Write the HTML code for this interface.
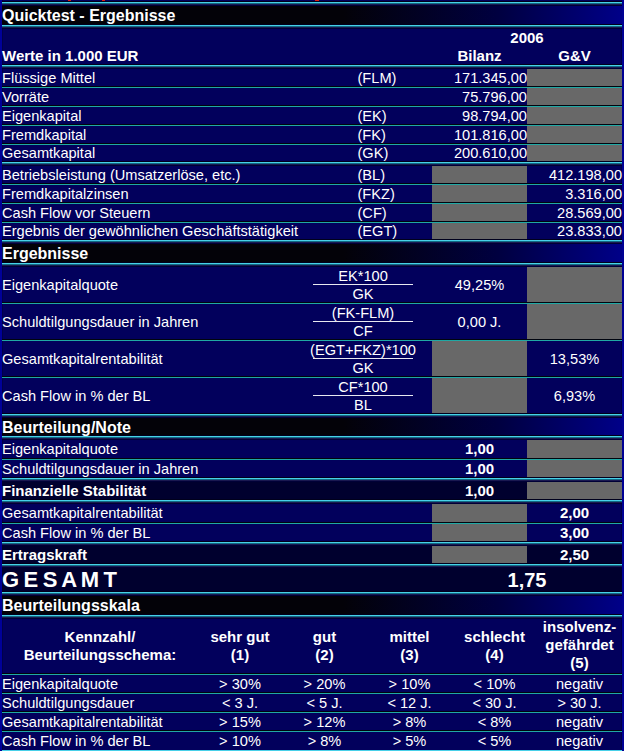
<!DOCTYPE html>
<html><head><meta charset="utf-8"><style>
html,body{margin:0;padding:0;}
body{width:624px;height:751px;overflow:hidden;position:relative;background:linear-gradient(to right,#02005c 0%,#02005c 60%,#02005c 100%);}
div{position:absolute;}
.t{font-family:"Liberation Sans",sans-serif;color:#fff;line-height:20px;white-space:pre;}
</style></head><body>
<div style="left:2px;top:0px;width:1px;height:751px;background:#00004a;"></div>
<div style="left:621px;top:0px;width:1px;height:751px;background:#00004a;"></div>
<div style="left:2px;top:5px;width:620px;height:20px;background:linear-gradient(to right,#030208 0%,#030208 55%,#000040 80%,#000088 100%);"></div>
<div style="left:2px;top:244px;width:620px;height:19px;background:linear-gradient(to right,#030208 0%,#030208 55%,#000040 80%,#000088 100%);"></div>
<div style="left:2px;top:417px;width:620px;height:19px;background:linear-gradient(to right,#030208 0%,#030208 55%,#000040 80%,#000088 100%);"></div>
<div style="left:2px;top:596px;width:620px;height:19px;background:linear-gradient(to right,#030208 0%,#030208 55%,#000040 80%,#000088 100%);"></div>
<div style="left:2px;top:482px;width:620px;height:18px;background:#00002e;"></div>
<div style="left:2px;top:546px;width:620px;height:18px;background:#00002e;"></div>
<div style="left:2px;top:566px;width:620px;height:26px;background:#00002e;"></div>
<div style="left:527px;top:66px;width:95px;height:96px;background:#686868;"></div>
<div style="left:432px;top:164px;width:95px;height:76px;background:#686868;"></div>
<div style="left:527px;top:265px;width:95px;height:75px;background:#686868;"></div>
<div style="left:432px;top:341px;width:95px;height:73px;background:#686868;"></div>
<div style="left:527px;top:437px;width:95px;height:41px;background:#686868;"></div>
<div style="left:527px;top:480px;width:95px;height:20px;background:#686868;"></div>
<div style="left:432px;top:502px;width:95px;height:40px;background:#686868;"></div>
<div style="left:432px;top:544px;width:95px;height:20px;background:#686868;"></div>
<div style="left:2px;top:1px;width:620px;height:1px;background:#00001c;"></div>
<div style="left:2px;top:2px;width:620px;height:1px;background:#48d0e8;"></div>
<div style="left:2px;top:3px;width:620px;height:1px;background:#106a84;"></div>
<div style="left:2px;top:4px;width:620px;height:1px;background:#1a1850;"></div>
<div style="left:2px;top:5px;width:620px;height:1px;background:#000036;"></div>
<div style="left:2px;top:24px;width:620px;height:1px;background:#00001c;"></div>
<div style="left:2px;top:25px;width:620px;height:1px;background:#48d0e8;"></div>
<div style="left:2px;top:26px;width:620px;height:1px;background:#106a84;"></div>
<div style="left:2px;top:27px;width:620px;height:1px;background:#1a1850;"></div>
<div style="left:2px;top:28px;width:620px;height:1px;background:#000036;"></div>
<div style="left:2px;top:64px;width:620px;height:1px;background:#00001c;"></div>
<div style="left:2px;top:65px;width:620px;height:1px;background:#48d0e8;"></div>
<div style="left:2px;top:66px;width:620px;height:1px;background:#106a84;"></div>
<div style="left:2px;top:67px;width:620px;height:1px;background:#1a1850;"></div>
<div style="left:2px;top:68px;width:620px;height:1px;background:#000036;"></div>
<div style="left:2px;top:161px;width:620px;height:1px;background:#00001c;"></div>
<div style="left:2px;top:162px;width:620px;height:1px;background:#48d0e8;"></div>
<div style="left:2px;top:163px;width:620px;height:1px;background:#106a84;"></div>
<div style="left:2px;top:164px;width:620px;height:1px;background:#1a1850;"></div>
<div style="left:2px;top:165px;width:620px;height:1px;background:#000036;"></div>
<div style="left:2px;top:239px;width:620px;height:1px;background:#00001c;"></div>
<div style="left:2px;top:240px;width:620px;height:1px;background:#48d0e8;"></div>
<div style="left:2px;top:241px;width:620px;height:1px;background:#106a84;"></div>
<div style="left:2px;top:242px;width:620px;height:1px;background:#1a1850;"></div>
<div style="left:2px;top:243px;width:620px;height:1px;background:#000036;"></div>
<div style="left:2px;top:262px;width:620px;height:1px;background:#00001c;"></div>
<div style="left:2px;top:263px;width:620px;height:1px;background:#48d0e8;"></div>
<div style="left:2px;top:264px;width:620px;height:1px;background:#106a84;"></div>
<div style="left:2px;top:265px;width:620px;height:1px;background:#1a1850;"></div>
<div style="left:2px;top:266px;width:620px;height:1px;background:#000036;"></div>
<div style="left:2px;top:413px;width:620px;height:1px;background:#00001c;"></div>
<div style="left:2px;top:414px;width:620px;height:1px;background:#48d0e8;"></div>
<div style="left:2px;top:415px;width:620px;height:1px;background:#106a84;"></div>
<div style="left:2px;top:416px;width:620px;height:1px;background:#1a1850;"></div>
<div style="left:2px;top:417px;width:620px;height:1px;background:#000036;"></div>
<div style="left:2px;top:435px;width:620px;height:1px;background:#00001c;"></div>
<div style="left:2px;top:436px;width:620px;height:1px;background:#48d0e8;"></div>
<div style="left:2px;top:437px;width:620px;height:1px;background:#106a84;"></div>
<div style="left:2px;top:438px;width:620px;height:1px;background:#1a1850;"></div>
<div style="left:2px;top:439px;width:620px;height:1px;background:#000036;"></div>
<div style="left:2px;top:477px;width:620px;height:1px;background:#00001c;"></div>
<div style="left:2px;top:478px;width:620px;height:1px;background:#48d0e8;"></div>
<div style="left:2px;top:479px;width:620px;height:1px;background:#106a84;"></div>
<div style="left:2px;top:480px;width:620px;height:1px;background:#1a1850;"></div>
<div style="left:2px;top:481px;width:620px;height:1px;background:#000036;"></div>
<div style="left:2px;top:499px;width:620px;height:1px;background:#00001c;"></div>
<div style="left:2px;top:500px;width:620px;height:1px;background:#48d0e8;"></div>
<div style="left:2px;top:501px;width:620px;height:1px;background:#106a84;"></div>
<div style="left:2px;top:502px;width:620px;height:1px;background:#1a1850;"></div>
<div style="left:2px;top:503px;width:620px;height:1px;background:#000036;"></div>
<div style="left:2px;top:541px;width:620px;height:1px;background:#00001c;"></div>
<div style="left:2px;top:542px;width:620px;height:1px;background:#48d0e8;"></div>
<div style="left:2px;top:543px;width:620px;height:1px;background:#106a84;"></div>
<div style="left:2px;top:544px;width:620px;height:1px;background:#1a1850;"></div>
<div style="left:2px;top:545px;width:620px;height:1px;background:#000036;"></div>
<div style="left:2px;top:563px;width:620px;height:1px;background:#00001c;"></div>
<div style="left:2px;top:564px;width:620px;height:1px;background:#48d0e8;"></div>
<div style="left:2px;top:565px;width:620px;height:1px;background:#106a84;"></div>
<div style="left:2px;top:566px;width:620px;height:1px;background:#1a1850;"></div>
<div style="left:2px;top:567px;width:620px;height:1px;background:#000036;"></div>
<div style="left:2px;top:591px;width:620px;height:1px;background:#00001c;"></div>
<div style="left:2px;top:592px;width:620px;height:1px;background:#48d0e8;"></div>
<div style="left:2px;top:593px;width:620px;height:1px;background:#106a84;"></div>
<div style="left:2px;top:594px;width:620px;height:1px;background:#1a1850;"></div>
<div style="left:2px;top:595px;width:620px;height:1px;background:#000036;"></div>
<div style="left:2px;top:614px;width:620px;height:1px;background:#00001c;"></div>
<div style="left:2px;top:615px;width:620px;height:1px;background:#48d0e8;"></div>
<div style="left:2px;top:616px;width:620px;height:1px;background:#106a84;"></div>
<div style="left:2px;top:617px;width:620px;height:1px;background:#1a1850;"></div>
<div style="left:2px;top:618px;width:620px;height:1px;background:#000036;"></div>
<div style="left:2px;top:86px;width:620px;height:1px;background:#00040e;"></div>
<div style="left:2px;top:87px;width:620px;height:1px;background:#20a8a4;"></div>
<div style="left:2px;top:105px;width:620px;height:1px;background:#00040e;"></div>
<div style="left:2px;top:106px;width:620px;height:1px;background:#20a8a4;"></div>
<div style="left:2px;top:124px;width:620px;height:1px;background:#00040e;"></div>
<div style="left:2px;top:125px;width:620px;height:1px;background:#20a8a4;"></div>
<div style="left:2px;top:143px;width:620px;height:1px;background:#00040e;"></div>
<div style="left:2px;top:144px;width:620px;height:1px;background:#20a8a4;"></div>
<div style="left:2px;top:183px;width:620px;height:1px;background:#00040e;"></div>
<div style="left:2px;top:184px;width:620px;height:1px;background:#20a8a4;"></div>
<div style="left:2px;top:202px;width:620px;height:1px;background:#00040e;"></div>
<div style="left:2px;top:203px;width:620px;height:1px;background:#20a8a4;"></div>
<div style="left:2px;top:221px;width:620px;height:1px;background:#00040e;"></div>
<div style="left:2px;top:222px;width:620px;height:1px;background:#20a8a4;"></div>
<div style="left:2px;top:302px;width:620px;height:1px;background:#00040e;"></div>
<div style="left:2px;top:303px;width:620px;height:1px;background:#20a8a4;"></div>
<div style="left:2px;top:339px;width:620px;height:1px;background:#00040e;"></div>
<div style="left:2px;top:340px;width:620px;height:1px;background:#20a8a4;"></div>
<div style="left:2px;top:376px;width:620px;height:1px;background:#00040e;"></div>
<div style="left:2px;top:377px;width:620px;height:1px;background:#20a8a4;"></div>
<div style="left:2px;top:458px;width:620px;height:1px;background:#00040e;"></div>
<div style="left:2px;top:459px;width:620px;height:1px;background:#20a8a4;"></div>
<div style="left:2px;top:522px;width:620px;height:1px;background:#00040e;"></div>
<div style="left:2px;top:523px;width:620px;height:1px;background:#20a8a4;"></div>
<div style="left:2px;top:673px;width:620px;height:1px;background:#00040e;"></div>
<div style="left:2px;top:674px;width:620px;height:1px;background:#20a8a4;"></div>
<div style="left:2px;top:692px;width:620px;height:1px;background:#00040e;"></div>
<div style="left:2px;top:693px;width:620px;height:1px;background:#20a8a4;"></div>
<div style="left:2px;top:711px;width:620px;height:1px;background:#00040e;"></div>
<div style="left:2px;top:712px;width:620px;height:1px;background:#20a8a4;"></div>
<div style="left:2px;top:730px;width:620px;height:1px;background:#00040e;"></div>
<div style="left:2px;top:731px;width:620px;height:1px;background:#20a8a4;"></div>
<div style="left:2px;top:750px;width:620px;height:1px;background:#48d0e8;"></div>
<div style="left:313px;top:284px;width:100px;height:1px;background:#e8e8f0;"></div>
<div style="left:313px;top:321px;width:100px;height:1px;background:#e8e8f0;"></div>
<div style="left:313px;top:358px;width:100px;height:1px;background:#e8e8f0;"></div>
<div style="left:313px;top:395px;width:100px;height:1px;background:#e8e8f0;"></div>
<div style="left:0px;top:0px;width:2px;height:751px;background:#000098;"></div>
<div style="left:622px;top:0px;width:2px;height:751px;background:#000094;"></div>
<div style="left:68px;top:0px;width:3px;height:1px;background:#e02010;"></div>
<div style="left:102px;top:0px;width:3px;height:1px;background:#e02010;"></div>
<div style="left:315px;top:0px;width:4px;height:1px;background:#e02010;"></div>
<div class="t" style="left:2px;top:6px;font-size:16px;font-weight:bold;">Quicktest - Ergebnisse</div>
<div class="t" style="left:432.0px;width:190px;text-align:center;top:28px;font-size:15px;font-weight:bold;">2006</div>
<div class="t" style="left:2px;top:46px;font-size:15px;font-weight:bold;">Werte in 1.000 EUR</div>
<div class="t" style="left:432.0px;width:95px;text-align:center;top:46px;font-size:15px;font-weight:bold;">Bilanz</div>
<div class="t" style="left:527.0px;width:95px;text-align:center;top:46px;font-size:15px;font-weight:bold;">G&amp;V</div>
<div class="t" style="left:2px;top:68px;font-size:14.6px;">Flüssige Mittel</div>
<div class="t" style="left:357.5px;top:68px;font-size:14.6px;">(FLM)</div>
<div class="t" style="left:432px;width:95px;text-align:right;top:68px;font-size:14.6px;">171.345,00</div>
<div class="t" style="left:2px;top:87px;font-size:14.6px;">Vorräte</div>
<div class="t" style="left:432px;width:95px;text-align:right;top:87px;font-size:14.6px;">75.796,00</div>
<div class="t" style="left:2px;top:106px;font-size:14.6px;">Eigenkapital</div>
<div class="t" style="left:357.5px;top:106px;font-size:14.6px;">(EK)</div>
<div class="t" style="left:432px;width:95px;text-align:right;top:106px;font-size:14.6px;">98.794,00</div>
<div class="t" style="left:2px;top:125px;font-size:14.6px;">Fremdkapital</div>
<div class="t" style="left:357.5px;top:125px;font-size:14.6px;">(FK)</div>
<div class="t" style="left:432px;width:95px;text-align:right;top:125px;font-size:14.6px;">101.816,00</div>
<div class="t" style="left:2px;top:143px;font-size:14.6px;">Gesamtkapital</div>
<div class="t" style="left:357.5px;top:143px;font-size:14.6px;">(GK)</div>
<div class="t" style="left:432px;width:95px;text-align:right;top:143px;font-size:14.6px;">200.610,00</div>
<div class="t" style="left:2px;top:165px;font-size:14.6px;">Betriebsleistung (Umsatzerlöse, etc.)</div>
<div class="t" style="left:357.5px;top:165px;font-size:14.6px;">(BL)</div>
<div class="t" style="left:527px;width:95px;text-align:right;top:165px;font-size:14.6px;">412.198,00</div>
<div class="t" style="left:2px;top:184px;font-size:14.6px;">Fremdkapitalzinsen</div>
<div class="t" style="left:357.5px;top:184px;font-size:14.6px;">(FKZ)</div>
<div class="t" style="left:527px;width:95px;text-align:right;top:184px;font-size:14.6px;">3.316,00</div>
<div class="t" style="left:2px;top:203px;font-size:14.6px;">Cash Flow vor Steuern</div>
<div class="t" style="left:357.5px;top:203px;font-size:14.6px;">(CF)</div>
<div class="t" style="left:527px;width:95px;text-align:right;top:203px;font-size:14.6px;">28.569,00</div>
<div class="t" style="left:2px;top:221px;font-size:14.6px;">Ergebnis der gewöhnlichen Geschäftstätigkeit</div>
<div class="t" style="left:357.5px;top:221px;font-size:14.6px;">(EGT)</div>
<div class="t" style="left:527px;width:95px;text-align:right;top:221px;font-size:14.6px;">23.833,00</div>
<div class="t" style="left:2px;top:244px;font-size:16px;font-weight:bold;">Ergebnisse</div>
<div class="t" style="left:2px;top:275px;font-size:14.6px;">Eigenkapitalquote</div>
<div class="t" style="left:293.0px;width:140px;text-align:center;top:266px;font-size:14.6px;">EK*100</div>
<div class="t" style="left:293.0px;width:140px;text-align:center;top:284px;font-size:14.6px;">GK</div>
<div class="t" style="left:432.0px;width:95px;text-align:center;top:275px;font-size:14.6px;">49,25%</div>
<div class="t" style="left:2px;top:312px;font-size:14.6px;">Schuldtilgungsdauer in Jahren</div>
<div class="t" style="left:293.0px;width:140px;text-align:center;top:303px;font-size:14.6px;">(FK-FLM)</div>
<div class="t" style="left:293.0px;width:140px;text-align:center;top:321px;font-size:14.6px;">CF</div>
<div class="t" style="left:432.0px;width:95px;text-align:center;top:312px;font-size:14.6px;">0,00 J.</div>
<div class="t" style="left:2px;top:349px;font-size:14.6px;">Gesamtkapitalrentabilität</div>
<div class="t" style="left:293.0px;width:140px;text-align:center;top:340px;font-size:14.6px;">(EGT+FKZ)*100</div>
<div class="t" style="left:293.0px;width:140px;text-align:center;top:358px;font-size:14.6px;">GK</div>
<div class="t" style="left:527.0px;width:95px;text-align:center;top:349px;font-size:14.6px;">13,53%</div>
<div class="t" style="left:2px;top:386px;font-size:14.6px;">Cash Flow in % der BL</div>
<div class="t" style="left:293.0px;width:140px;text-align:center;top:377px;font-size:14.6px;">CF*100</div>
<div class="t" style="left:293.0px;width:140px;text-align:center;top:395px;font-size:14.6px;">BL</div>
<div class="t" style="left:527.0px;width:95px;text-align:center;top:386px;font-size:14.6px;">6,93%</div>
<div class="t" style="left:2px;top:418px;font-size:16px;font-weight:bold;">Beurteilung/Note</div>
<div class="t" style="left:2px;top:439px;font-size:14.6px;">Eigenkapitalquote</div>
<div class="t" style="left:432.0px;width:95px;text-align:center;top:439px;font-size:15px;font-weight:bold;">1,00</div>
<div class="t" style="left:2px;top:459px;font-size:14.6px;">Schuldtilgungsdauer in Jahren</div>
<div class="t" style="left:432.0px;width:95px;text-align:center;top:459px;font-size:15px;font-weight:bold;">1,00</div>
<div class="t" style="left:2px;top:481px;font-size:15px;font-weight:bold;">Finanzielle Stabilität</div>
<div class="t" style="left:432.0px;width:95px;text-align:center;top:481px;font-size:15px;font-weight:bold;">1,00</div>
<div class="t" style="left:2px;top:503px;font-size:14.6px;">Gesamtkapitalrentabilität</div>
<div class="t" style="left:527.0px;width:95px;text-align:center;top:503px;font-size:15px;font-weight:bold;">2,00</div>
<div class="t" style="left:2px;top:523px;font-size:14.6px;">Cash Flow in % der BL</div>
<div class="t" style="left:527.0px;width:95px;text-align:center;top:523px;font-size:15px;font-weight:bold;">3,00</div>
<div class="t" style="left:2px;top:545px;font-size:15px;font-weight:bold;">Ertragskraft</div>
<div class="t" style="left:527.0px;width:95px;text-align:center;top:545px;font-size:15px;font-weight:bold;">2,50</div>
<div class="t" style="left:2px;top:570px;font-size:22px;font-weight:bold;letter-spacing:-0.8px;">G E S A M T</div>
<div class="t" style="left:432.0px;width:190px;text-align:center;top:570px;font-size:20px;font-weight:bold;">1,75</div>
<div class="t" style="left:2px;top:596px;font-size:16px;font-weight:bold;">Beurteilungsskala</div>
<div class="t" style="left:2.0px;width:196px;text-align:center;top:627px;font-size:15px;font-weight:bold;">Kennzahl/</div>
<div class="t" style="left:2.0px;width:196px;text-align:center;top:645px;font-size:15px;font-weight:bold;">Beurteilungsschema:</div>
<div class="t" style="left:197.5px;width:85px;text-align:center;top:627px;font-size:15px;font-weight:bold;">sehr gut</div>
<div class="t" style="left:197.5px;width:85px;text-align:center;top:645px;font-size:15px;font-weight:bold;">(1)</div>
<div class="t" style="left:282.0px;width:85px;text-align:center;top:627px;font-size:15px;font-weight:bold;">gut</div>
<div class="t" style="left:282.0px;width:85px;text-align:center;top:645px;font-size:15px;font-weight:bold;">(2)</div>
<div class="t" style="left:367.0px;width:85px;text-align:center;top:627px;font-size:15px;font-weight:bold;">mittel</div>
<div class="t" style="left:367.0px;width:85px;text-align:center;top:645px;font-size:15px;font-weight:bold;">(3)</div>
<div class="t" style="left:452.0px;width:85px;text-align:center;top:627px;font-size:15px;font-weight:bold;">schlecht</div>
<div class="t" style="left:452.0px;width:85px;text-align:center;top:645px;font-size:15px;font-weight:bold;">(4)</div>
<div class="t" style="left:537.0px;width:85px;text-align:center;top:617px;font-size:15px;font-weight:bold;">insolvenz-</div>
<div class="t" style="left:537.0px;width:85px;text-align:center;top:635px;font-size:15px;font-weight:bold;">gefährdet</div>
<div class="t" style="left:537.0px;width:85px;text-align:center;top:653px;font-size:15px;font-weight:bold;">(5)</div>
<div class="t" style="left:2px;top:674px;font-size:14.6px;">Eigenkapitalquote</div>
<div class="t" style="left:197.5px;width:85px;text-align:center;top:674px;font-size:14.6px;">&gt; 30%</div>
<div class="t" style="left:282.0px;width:85px;text-align:center;top:674px;font-size:14.6px;">&gt; 20%</div>
<div class="t" style="left:367.0px;width:85px;text-align:center;top:674px;font-size:14.6px;">&gt; 10%</div>
<div class="t" style="left:452.0px;width:85px;text-align:center;top:674px;font-size:14.6px;">&lt; 10%</div>
<div class="t" style="left:537.0px;width:85px;text-align:center;top:674px;font-size:14.6px;">negativ</div>
<div class="t" style="left:2px;top:693px;font-size:14.6px;">Schuldtilgungsdauer</div>
<div class="t" style="left:197.5px;width:85px;text-align:center;top:693px;font-size:14.6px;">&lt; 3 J.</div>
<div class="t" style="left:282.0px;width:85px;text-align:center;top:693px;font-size:14.6px;">&lt; 5 J.</div>
<div class="t" style="left:367.0px;width:85px;text-align:center;top:693px;font-size:14.6px;">&lt; 12 J.</div>
<div class="t" style="left:452.0px;width:85px;text-align:center;top:693px;font-size:14.6px;">&lt; 30 J.</div>
<div class="t" style="left:537.0px;width:85px;text-align:center;top:693px;font-size:14.6px;">&gt; 30 J.</div>
<div class="t" style="left:2px;top:712px;font-size:14.6px;">Gesamtkapitalrentabilität</div>
<div class="t" style="left:197.5px;width:85px;text-align:center;top:712px;font-size:14.6px;">&gt; 15%</div>
<div class="t" style="left:282.0px;width:85px;text-align:center;top:712px;font-size:14.6px;">&gt; 12%</div>
<div class="t" style="left:367.0px;width:85px;text-align:center;top:712px;font-size:14.6px;">&gt; 8%</div>
<div class="t" style="left:452.0px;width:85px;text-align:center;top:712px;font-size:14.6px;">&lt; 8%</div>
<div class="t" style="left:537.0px;width:85px;text-align:center;top:712px;font-size:14.6px;">negativ</div>
<div class="t" style="left:2px;top:731px;font-size:14.6px;">Cash Flow in % der BL</div>
<div class="t" style="left:197.5px;width:85px;text-align:center;top:731px;font-size:14.6px;">&gt; 10%</div>
<div class="t" style="left:282.0px;width:85px;text-align:center;top:731px;font-size:14.6px;">&gt; 8%</div>
<div class="t" style="left:367.0px;width:85px;text-align:center;top:731px;font-size:14.6px;">&gt; 5%</div>
<div class="t" style="left:452.0px;width:85px;text-align:center;top:731px;font-size:14.6px;">&lt; 5%</div>
<div class="t" style="left:537.0px;width:85px;text-align:center;top:731px;font-size:14.6px;">negativ</div>
</body></html>
